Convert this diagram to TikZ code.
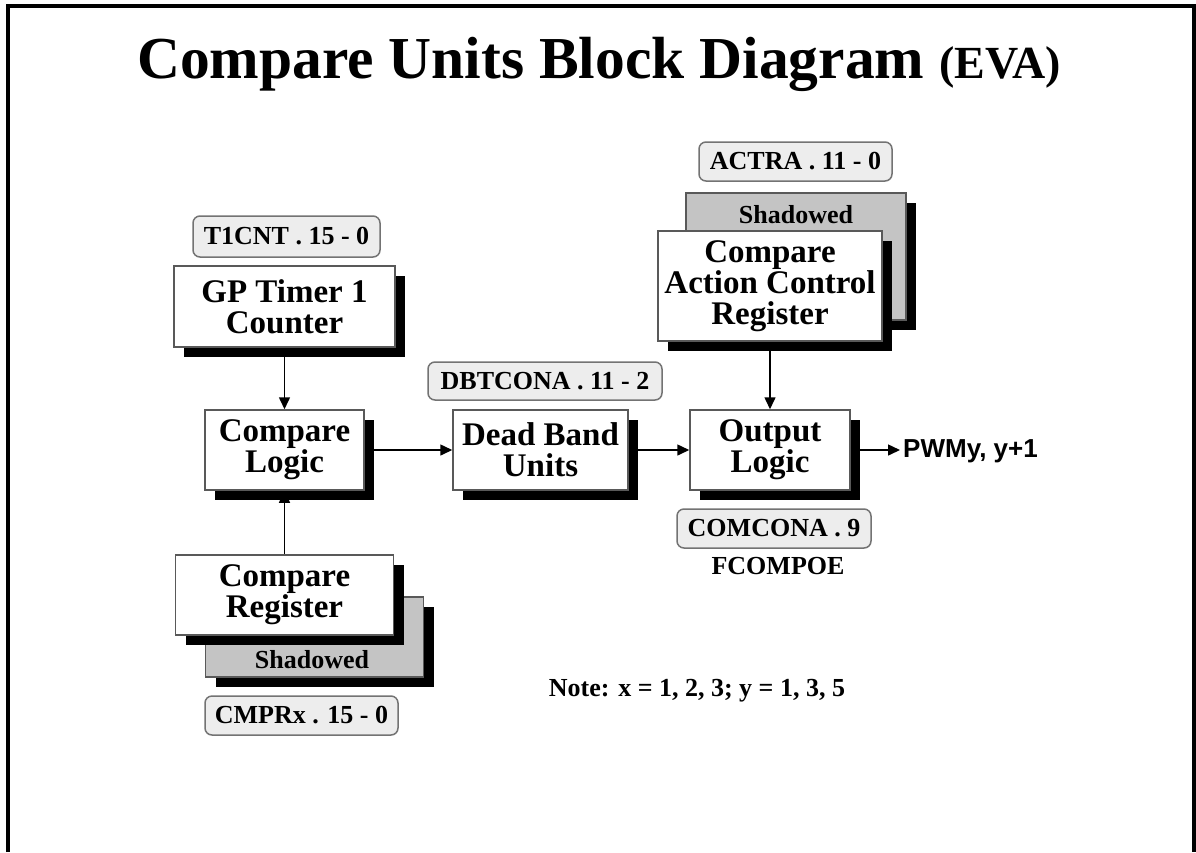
\documentclass[tikz,border=0pt]{standalone}
\usepackage{fontspec}
\setmainfont{Liberation Serif}
\newfontfamily\arialfont{Liberation Sans}
\usetikzlibrary{arrows.meta,shadows}

\pgfdeclarelayer{paper}
\pgfdeclarelayer{wires}
\pgfsetlayers{paper,wires,main}

\tikzset{
  blk/.style={draw=black!65, line width=1.5pt, fill=white, align=center, inner sep=0pt,
    font=\fontsize{33}{31}\selectfont\bfseries,
    drop shadow={shadow xshift=10pt, shadow yshift=-10pt, fill=black, opacity=1}},
  shd/.style={blk, fill=black!23},
  reg/.style={draw=black!55, line width=1.5pt, fill=black!7, rounded corners=7pt, inner sep=0pt,
    font=\fontsize{26}{26}\selectfont\bfseries},
  conn/.style={line width=1.5pt, black, -{Triangle[length=12pt,width=11pt]}},
  txt/.style={inner sep=0pt, font=\fontsize{26}{26}\selectfont\bfseries},
}

\begin{document}
\begin{tikzpicture}[x=1pt,y=-1pt]
\begin{pgfonlayer}{paper}
  \fill[white] (0,0) rectangle (1196,852);
\end{pgfonlayer}
\useasboundingbox (0,0) rectangle (1196,852);

% outer frame (open at the bottom)
\draw[line width=4pt, line join=miter] (8,852) -- (8,6) -- (1193.5,6) -- (1193.5,852);

% title
\node[anchor=base west, inner sep=0pt, font=\fontsize{59.5}{60}\selectfont\bfseries] (title)
  at (137,78) {Compare Units Block Diagram {\fontsize{46}{46}\selectfont(EVA)}};

% timer counter
\node[reg, minimum width=187pt, minimum height=41pt] (lt1) at (286.5,236.5) {T1CNT . 15 - 0};
\node[blk, minimum width=221pt, minimum height=81pt] (gp) at (284.5,306.5) {GP Timer 1\\Counter};

% compare logic
\node[blk, minimum width=159pt, minimum height=80pt] (cl) at (284.5,450) {Compare\\Logic};

% compare register with its shadow register
\node[shd, minimum width=218pt, minimum height=80pt] (crg) at (314.5,637) {};
\node[txt, anchor=base] (crgt) at (312,668) {Shadowed};
\node[blk, minimum width=218pt, minimum height=80pt] (crf) at (284.5,595) {Compare\\Register};
\node[reg, minimum width=193pt, minimum height=39pt] (lcmp) at (301.5,715.5) {CMPRx . 15 - 0};

% dead band units
\node[reg, minimum width=234pt, minimum height=38pt] (ldb) at (545,381) {DBTCONA . 11 - 2};
\node[blk, minimum width=175pt, minimum height=80pt] (db) at (540.5,450) {Dead Band\\Units};

% action control register with its shadow register
\node[reg, minimum width=193pt, minimum height=39pt] (lact) at (795.5,161.5) {ACTRA . 11 - 0};
\node[shd, minimum width=220pt, minimum height=127pt] (acg) at (796,256.5) {};
\node[txt, anchor=base] (acgt) at (796,223) {Shadowed};
\node[blk, minimum width=224pt, minimum height=110pt] (acr) at (770,286) {Compare\\Action Control\\Register};

% output logic
\node[blk, minimum width=160pt, minimum height=80pt] (out) at (770,450) {Output\\Logic};
\node[reg, minimum width=194pt, minimum height=39pt] (lcom) at (774,528.5) {COMCONA . 9};
\node[txt, anchor=base] (fc) at (778,574) {FCOMPOE};

\node[inner sep=3pt, anchor=west, font=\arialfont\fontsize{26}{26}\selectfont\bfseries] (pwm)
  at (900,451) {PWMy, y+1};

% note
\node[txt, anchor=base] (note) at (697,696) {Note: x = 1, 2, 3; y = 1, 3, 5};

% signal flow
\begin{pgfonlayer}{wires}
  \draw[conn] (gp.south) -- (cl.north);
  \draw[conn] (crf.north) -- (cl.south);
  \draw[conn] (cl.east) -- (db.west);
  \draw[conn] (db.east) -- (out.west);
  \draw[conn] (acr.south) -- (out.north);
  \draw[conn] (out.east) -- (out.east -| pwm.west);
\end{pgfonlayer}
\end{tikzpicture}
\end{document}
